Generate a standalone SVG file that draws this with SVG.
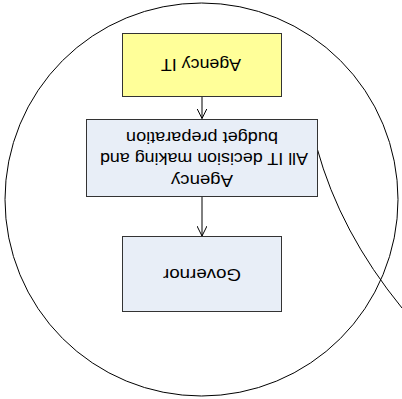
<svg xmlns="http://www.w3.org/2000/svg" width="402" height="399" viewBox="0 0 402 399">
<style>
.box{stroke:#333333;stroke-width:1}
.lbl{font-family:"Liberation Sans",Arial,sans-serif;font-size:16px;fill:#000000;text-anchor:middle}
.con{stroke:#000000;stroke-width:1;fill:none}
</style>
<defs>
<marker id="ah" viewBox="0 0 10 10" refX="10" refY="5" markerWidth="10" markerHeight="10" markerUnits="userSpaceOnUse" orient="auto">
<path d="M0,0 L10,5 L0,10" fill="none" stroke="#000000" stroke-width="1"/>
</marker>
</defs>
<rect x="0" y="0" width="402" height="399" fill="#ffffff"/>
<g id="boundary">
<circle cx="201.5" cy="199.5" r="196.5" fill="none" stroke="#000000" stroke-width="1"/>
</g>
<g id="connectors">
<line class="con" x1="202" y1="97" x2="202" y2="118.5" marker-end="url(#ah)"/>
<line class="con" x1="202" y1="197" x2="202" y2="236" marker-end="url(#ah)"/>
<path class="con" d="M317,148 Q340,232 402,308"/>
</g>
<g id="agency-it">
<rect class="box" x="122.5" y="33.5" width="159" height="63" fill="#FFFF99"/>
<text class="lbl" x="201" y="70" textLength="80" lengthAdjust="spacingAndGlyphs" transform="rotate(180 201 64.5)">Agency IT</text>
</g>
<g id="agency">
<rect class="box" x="86.5" y="119.5" width="231" height="77" fill="#E8EEF7"/>
<text class="lbl" x="202" y="185.5" textLength="62" lengthAdjust="spacingAndGlyphs" transform="rotate(180 202 180)">Agency</text>
<text class="lbl" x="204" y="164" textLength="208" lengthAdjust="spacingAndGlyphs" transform="rotate(180 204 158.5)">All IT decision making and</text>
<text class="lbl" x="202" y="142.5" textLength="152" lengthAdjust="spacingAndGlyphs" transform="rotate(180 202 137)">budget preparation</text>
</g>
<g id="governor">
<rect class="box" x="122.5" y="236.5" width="159" height="75" fill="#E8EEF7"/>
<text class="lbl" x="202" y="280" textLength="78" lengthAdjust="spacingAndGlyphs" transform="rotate(180 202 274.5)">Governor</text>
</g>
</svg>
